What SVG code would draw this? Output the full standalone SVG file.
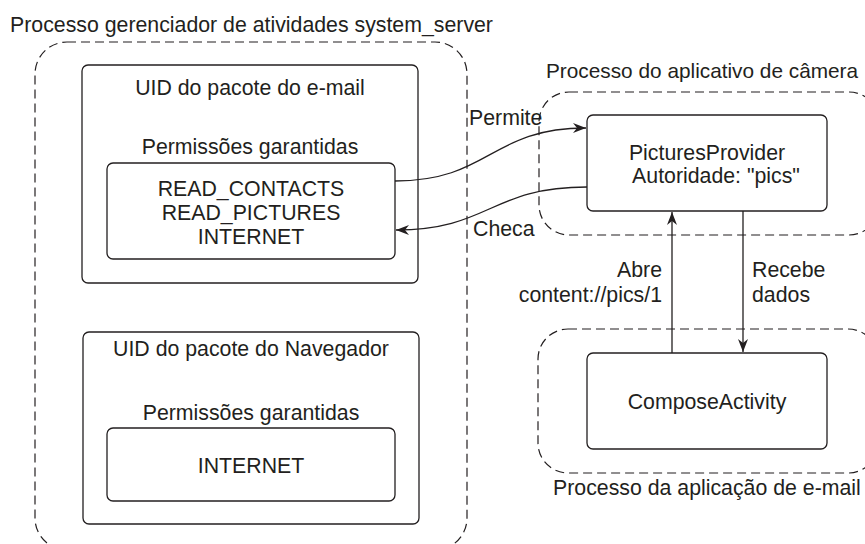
<svg xmlns="http://www.w3.org/2000/svg" width="865" height="544" viewBox="0 0 865 544">
<defs>
<style>
text{font-family:"Liberation Sans",Arial,sans-serif;font-size:21.3px;fill:#231f20}
.c{text-anchor:middle}
.r{text-anchor:end}
.box{fill:#fff;stroke:#231f20;stroke-width:1.3}
.dash{fill:none;stroke:#231f20;stroke-width:1.2;stroke-dasharray:9 5}
.edge{fill:none;stroke:#231f20;stroke-width:1.3}
</style>
<marker id="ah" markerWidth="14" markerHeight="10" refX="13" refY="5" orient="auto" markerUnits="userSpaceOnUse">
<path d="M0,0 L13,5 L0,10 L4,5 Z" fill="#231f20"/>
</marker>
</defs>
<rect width="865" height="544" fill="#fff"/>
<g id="system_server">
<rect class="dash" x="35" y="42" width="432" height="508" rx="32"/>
<text x="10" y="32">Processo gerenciador de atividades system_server</text>
</g>
<g id="uid_email">
<rect class="box" x="82" y="65" width="336" height="218" rx="6"/>
<text class="c" x="250" y="95">UID do pacote do e-mail</text>
<text class="c" x="250" y="154">Permissões garantidas</text>
</g>
<g id="perms_email">
<rect class="box" x="107" y="163" width="288" height="96" rx="6"/>
<text class="c" x="251" y="196">READ_CONTACTS</text>
<text class="c" x="251" y="220">READ_PICTURES</text>
<text class="c" x="251" y="244">INTERNET</text>
</g>
<g id="uid_browser">
<rect class="box" x="83" y="332" width="336" height="192" rx="6"/>
<text class="c" x="251" y="356">UID do pacote do Navegador</text>
<text class="c" x="251" y="420">Permissões garantidas</text>
</g>
<g id="perms_browser">
<rect class="box" x="107" y="428" width="288" height="73" rx="6"/>
<text class="c" x="251" y="473">INTERNET</text>
</g>
<g id="camera_process">
<rect class="dash" x="539" y="92" width="340" height="143" rx="30"/>
<text x="546" y="78" style="font-size:20.8px">Processo do aplicativo de câmera</text>
</g>
<g id="email_process">
<rect class="dash" x="538" y="329" width="340" height="144" rx="30"/>
<text x="553" y="495">Processo da aplicação de e-mail</text>
</g>
<g id="pictures_provider">
<rect class="box" x="587" y="115" width="240" height="96" rx="6"/>
<text class="c" x="707" y="160">PicturesProvider</text>
<text class="c" x="716" y="183">Autoridade: "pics"</text>
</g>
<g id="compose_activity">
<rect class="box" x="587" y="353" width="240" height="96" rx="6"/>
<text class="c" x="707" y="409">ComposeActivity</text>
</g>
<g id="connectors">
<path class="edge" d="M395,181 C490,181 490,128 586,128" marker-end="url(#ah)"/>
<path class="edge" d="M587,187 C490,187 490,230 396,230" marker-end="url(#ah)"/>
<path class="edge" d="M672,353 L672,212" marker-end="url(#ah)"/>
<path class="edge" d="M743,211 L743,352" marker-end="url(#ah)"/>
<text x="469" y="125">Permite</text>
<text x="473" y="236">Checa</text>
<text class="r" x="662" y="277">Abre</text>
<text class="r" x="662" y="302">content://pics/1</text>
<text x="752" y="277">Recebe</text>
<text x="752" y="302">dados</text>
</g>
</svg>
